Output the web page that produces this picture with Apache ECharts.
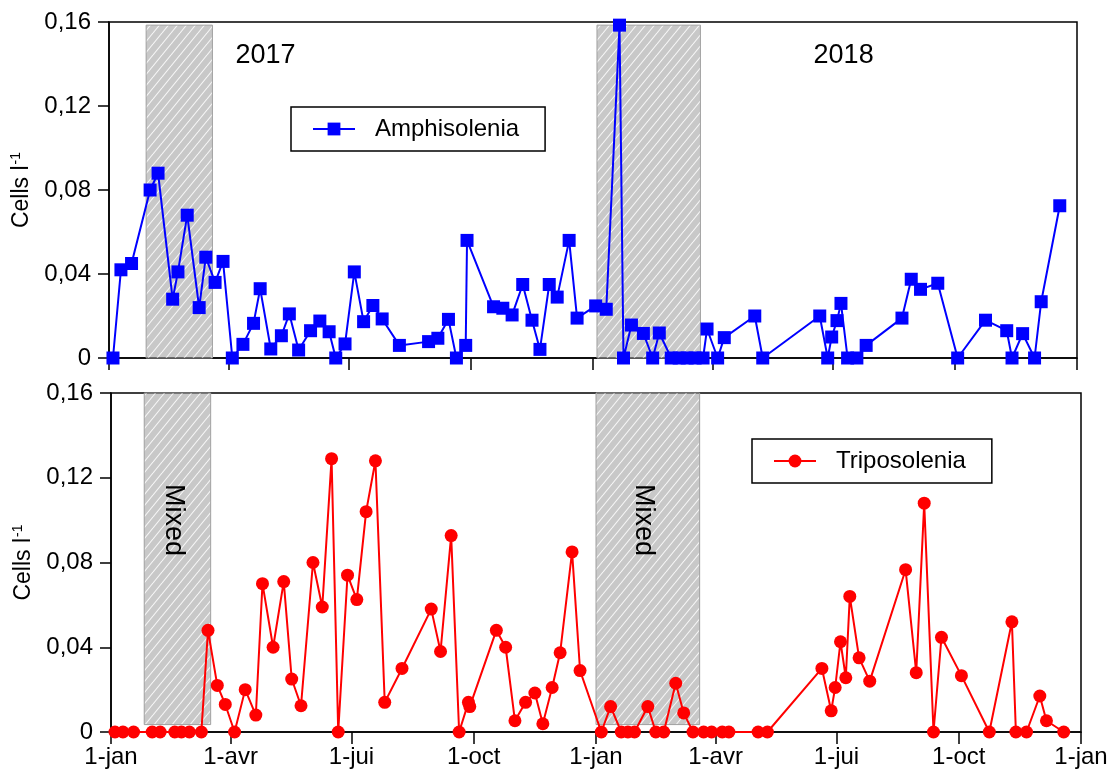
<!DOCTYPE html>
<html><head><meta charset="utf-8">
<script src="https://cdn.jsdelivr.net/npm/echarts@6/dist/echarts.min.js"></script>
<style>html,body{margin:0;padding:0;background:#fff}#c{width:1114px;height:774px}</style>
</head><body><div id="c"></div>
<script>
// ---------- DATA ----------
const ampDates = ['2017-01-04','2017-01-10','2017-01-18','2017-02-01','2017-02-07','2017-02-18','2017-02-22','2017-03-01','2017-03-10','2017-03-15','2017-03-22','2017-03-28','2017-04-04','2017-04-12','2017-04-20','2017-04-25','2017-05-03','2017-05-11','2017-05-17','2017-05-24','2017-06-02','2017-06-09','2017-06-16','2017-06-21','2017-06-28','2017-07-05','2017-07-12','2017-07-19','2017-07-26','2017-08-08','2017-08-30','2017-09-06','2017-09-14','2017-09-20','2017-09-27','2017-09-28','2017-10-18','2017-10-25','2017-11-01','2017-11-09','2017-11-16','2017-11-22','2017-11-29','2017-12-05','2017-12-14','2017-12-20','2018-01-03','2018-01-11','2018-01-21','2018-01-24','2018-01-30','2018-02-08','2018-02-15','2018-02-20','2018-03-01','2018-03-07','2018-03-13','2018-03-19','2018-03-25','2018-03-28','2018-04-05','2018-04-10','2018-05-03','2018-05-09','2018-06-21','2018-06-27','2018-06-30','2018-07-04','2018-07-07','2018-07-12','2018-07-19','2018-07-26','2018-08-22','2018-08-29','2018-09-05','2018-09-18','2018-10-03','2018-10-24','2018-11-09','2018-11-13','2018-11-21','2018-11-30','2018-12-05','2018-12-19'];
const ampValues = [0,0.042,0.045,0.080,0.088,0.028,0.041,0.068,0.024,0.048,0.036,0.046,0,0.0065,0.0165,0.033,0.0043,0.0106,0.021,0.0038,0.013,0.0176,0.0125,0,0.0067,0.041,0.0173,0.025,0.0186,0.006,0.0078,0.0094,0.0184,0,0.006,0.056,0.0244,0.0237,0.0205,0.035,0.018,0.0041,0.035,0.029,0.056,0.019,0.0248,0.0232,0.1585,0,0.0157,0.0117,0,0.0119,0,0,0,0,0,0.0138,0,0.0097,0.020,0,0.020,0,0.010,0.0178,0.026,0,0,0.006,0.019,0.0375,0.0327,0.0356,0,0.018,0.013,0,0.0116,0,0.0268,0.0725];

const triDates = ['2017-01-04','2017-01-10','2017-01-18','2017-02-01','2017-02-07','2017-02-18','2017-02-23','2017-03-01','2017-03-10','2017-03-15','2017-03-22','2017-03-28','2017-04-04','2017-04-12','2017-04-20','2017-04-25','2017-05-03','2017-05-11','2017-05-17','2017-05-24','2017-06-02','2017-06-09','2017-06-16','2017-06-21','2017-06-28','2017-07-05','2017-07-12','2017-07-19','2017-07-26','2017-08-08','2017-08-30','2017-09-06','2017-09-14','2017-09-20','2017-09-27','2017-09-28','2017-10-18','2017-10-25','2017-11-01','2017-11-09','2017-11-16','2017-11-22','2017-11-29','2017-12-05','2017-12-14','2017-12-20','2018-01-05','2018-01-12','2018-01-20','2018-01-25','2018-01-30','2018-02-09','2018-02-15','2018-02-21','2018-03-02','2018-03-08','2018-03-15','2018-03-23','2018-03-29','2018-04-06','2018-04-11','2018-05-03','2018-05-10','2018-06-20','2018-06-27','2018-06-30','2018-07-04','2018-07-08','2018-07-11','2018-07-18','2018-07-26','2018-08-22','2018-08-30','2018-09-05','2018-09-12','2018-09-18','2018-10-03','2018-10-24','2018-11-10','2018-11-13','2018-11-21','2018-12-01','2018-12-06','2018-12-19'];
const triValues = [0,0,0,0,0,0,0,0,0,0.048,0.022,0.013,0,0.020,0.008,0.070,0.040,0.071,0.025,0.0124,0.080,0.059,0.129,0,0.074,0.0625,0.104,0.128,0.014,0.030,0.058,0.038,0.0927,0,0.014,0.012,0.048,0.040,0.0053,0.014,0.0184,0.0039,0.021,0.0374,0.085,0.029,0,0.012,0,0,0,0.012,0,0,0.023,0.009,0,0,0,0,0,0,0,0.030,0.010,0.021,0.0426,0.0256,0.064,0.035,0.024,0.0766,0.028,0.108,0,0.0447,0.0266,0,0.052,0,0,0.017,0.0053,0];

const mixedTop = [['2017-01-29','2017-03-20'],['2018-01-04','2018-03-23']];
const mixedTopY = [0, 0.1585];
const mixedBottom = [['2017-01-26','2017-03-17'],['2018-01-01','2018-03-20']];
const mixedBottomY = [0.0035, 0.16];
const mixedLabel = 'Mixed';

const xTickDates = ['2017-01-01','2017-04-01','2017-07-01','2017-10-01','2018-01-01','2018-04-01','2018-07-01','2018-10-01','2019-01-01'];
const xTickLabels = ['1-jan','1-avr','1-jui','1-oct','1-jan','1-avr','1-jui','1-oct','1-jan'];
const yearLabels = ['2017','2018'];
const seriesNames = ['Amphisolenia','Triposolenia'];

// ---------- BUILD ----------
const FONT = '"Liberation Sans", Arial, Helvetica, sans-serif';
const t = s => Date.parse(s + 'T00:00:00Z');
const xTickVals = xTickDates.map(t);
const xMin = xTickVals[0], xMax = xTickVals[xTickVals.length - 1];

function hatch() {
  const w = 9, h = 11;
  const c = document.createElement('canvas');
  c.width = w; c.height = h;
  const g = c.getContext('2d');
  g.fillStyle = 'rgba(110,110,110,0.38)';
  g.fillRect(0, 0, w, h);
  g.strokeStyle = 'rgba(255,255,255,0.85)';
  g.lineWidth = 1.1;
  [-w, 0, w].forEach(o => { g.beginPath(); g.moveTo(o, h); g.lineTo(o + w, 0); g.stroke(); });
  return c;
}
const pattern = { image: hatch(), repeat: 'repeat' };

const yFmt = v => v === 0 ? '0' : v.toFixed(2).replace('.', ',');
const yName = '{a|Cells l}{b|-1}';

function xAxisCfg(gi, labels) {
  return {
    type: 'value', gridIndex: gi, min: xMin, max: xMax,
    axisLine: { show: true, onZero: false, lineStyle: { color: '#000', width: 1.5 } },
    axisTick: { show: true, length: 12, customValues: xTickVals, lineStyle: { color: '#000', width: 1.5 } },
    axisLabel: labels ? {
      show: true, customValues: xTickVals, fontSize: 24, color: '#000', fontFamily: FONT, margin: 13,
      formatter: v => { const i = xTickVals.indexOf(v); return i >= 0 ? xTickLabels[i] : ''; }
    } : { show: false },
    splitLine: { show: false }
  };
}
function yAxisCfg(gi) {
  return {
    type: 'value', gridIndex: gi, min: 0, max: 0.16, interval: 0.04,
    axisLine: { show: true, onZero: false, lineStyle: { color: '#000', width: 1.5 } },
    axisTick: { show: true, length: 11, lineStyle: { color: '#000', width: 1.5 } },
    axisLabel: { formatter: yFmt, fontSize: 24, color: '#000', fontFamily: FONT, margin: 18 },
    splitLine: { show: false },
    name: yName, nameLocation: 'middle', nameRotate: 90, nameGap: 66,
    nameTextStyle: {
      color: '#000', fontFamily: FONT, fontSize: 23,
      rich: {
        a: { fontSize: 23, fontFamily: FONT, color: '#000' },
        b: { fontSize: 14, fontFamily: FONT, color: '#000', padding: [0, 0, 12, 1] }
      }
    }
  };
}
function legendCfg(name, left, top) {
  return {
    data: [name], left: left, top: top, orient: 'horizontal',
    borderColor: '#000', borderWidth: 1.5, padding: [10, 26, 10, 21],
    itemWidth: 42, itemHeight: 16, selectedMode: false,
    textStyle: { fontSize: 24, color: '#000', fontFamily: FONT, padding: [0, 0, 0, 15] }
  };
}
function areaSeries(gi, ranges, yr) {
  return {
    type: 'line', xAxisIndex: gi, yAxisIndex: gi, data: [], z: 5, silent: true,
    markArea: {
      silent: true,
      itemStyle: { color: pattern, borderColor: '#a0a0a0', borderWidth: 1 },
      data: ranges.map(r => [{ xAxis: t(r[0]), yAxis: yr[0] }, { xAxis: t(r[1]), yAxis: yr[1] }])
    }
  };
}

const chart = echarts.init(document.getElementById('c'), null, { renderer: 'canvas' });
chart.setOption({
  animation: false,
  backgroundColor: '#fff',
  textStyle: { fontFamily: FONT },
  grid: [
    { left: 109, right: 37, top: 22, height: 336, show: true, borderColor: '#000', borderWidth: 1.5, backgroundColor: 'transparent' },
    { left: 111, right: 33, top: 393, height: 339, show: true, borderColor: '#000', borderWidth: 1.5, backgroundColor: 'transparent' }
  ],
  xAxis: [xAxisCfg(0, false), xAxisCfg(1, true)],
  yAxis: [yAxisCfg(0), yAxisCfg(1)],
  legend: [legendCfg(seriesNames[0], 291, 107), legendCfg(seriesNames[1], 752, 439)],
  series: [
    {
      name: seriesNames[0], type: 'line', xAxisIndex: 0, yAxisIndex: 0, z: 2,
      data: ampDates.map((d, i) => [t(d), ampValues[i]]),
      symbol: 'rect', symbolSize: 13, showAllSymbol: true,
      lineStyle: { color: '#0000ff', width: 2 }, itemStyle: { color: '#0000ff' }
    },
    {
      name: seriesNames[1], type: 'line', xAxisIndex: 1, yAxisIndex: 1, z: 2,
      data: triDates.map((d, i) => [t(d), triValues[i]]),
      symbol: 'circle', symbolSize: 13, showAllSymbol: true,
      lineStyle: { color: '#ff0000', width: 2 }, itemStyle: { color: '#ff0000' }
    },
    areaSeries(0, mixedTop, mixedTopY),
    areaSeries(1, mixedBottom, mixedBottomY)
  ]
});

// annotations placed through the axes
const mid = r => (t(r[0]) + t(r[1])) / 2;
const yearPos = [
  chart.convertToPixel({ gridIndex: 0 }, [t('2017-04-29'), 0.144]),
  chart.convertToPixel({ gridIndex: 0 }, [t('2018-07-09'), 0.144])
];
const mixedPos = mixedBottom.map(r => chart.convertToPixel({ gridIndex: 1 }, [mid(r) - 3 * 86400000, 0.10]));
chart.setOption({
  graphic: [
    ...yearLabels.map((s, i) => ({
      type: 'text', x: yearPos[i][0], y: yearPos[i][1], z: 20,
      style: { text: s, fontSize: 27, fontFamily: FONT, fill: '#000', align: 'center', verticalAlign: 'middle' }
    })),
    ...mixedPos.map(p => ({
      type: 'text', x: p[0], y: p[1], rotation: -Math.PI / 2, z: 20,
      style: { text: mixedLabel, fontSize: 27, fontFamily: FONT, fill: '#000', align: 'center', verticalAlign: 'middle' }
    }))
  ]
});
</script>
</body></html>
